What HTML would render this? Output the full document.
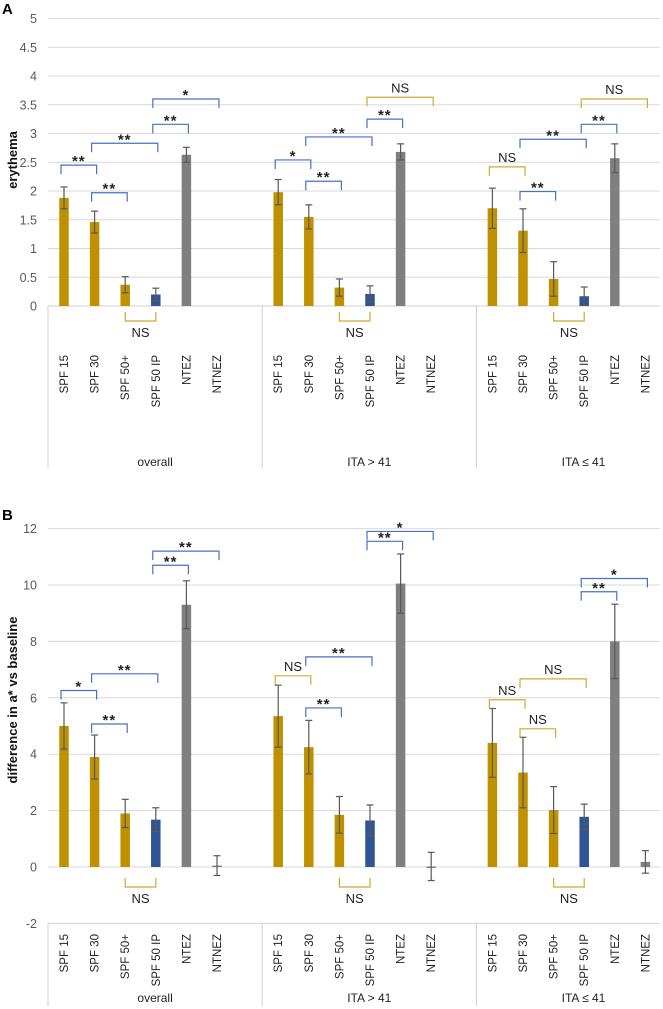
<!DOCTYPE html>
<html><head><meta charset="utf-8">
<style>
html,body{margin:0;padding:0;background:#fff;}
svg{display:block;font-family:"Liberation Sans","DejaVu Sans",sans-serif;}
</style></head>
<body>
<svg id="fig" width="663" height="1009" viewBox="0 0 663 1009"></svg>
<script>
// ===== Shared categories =====
const groups = ["overall", "ITA > 41", "ITA \u2264 41"];
const categories = ["SPF 15", "SPF 30", "SPF 50+", "SPF 50 IP", "NTEZ", "NTNEZ"];
const barKinds = ["gold", "gold", "gold", "blue", "gray", "gray"];

// ===== Chart A: erythema =====
const aTicks = [0, 0.5, 1, 1.5, 2, 2.5, 3, 3.5, 4, 4.5, 5];
const aTickLabels = ["0", "0.5", "1", "1.5", "2", "2.5", "3", "3.5", "4", "4.5", "5"];
const aOverall = [1.88, 1.46, 0.37, 0.20, 2.63, 0];
const aOverallErr = [0.19, 0.19, 0.14, 0.11, 0.13, 0];
const aHigh = [1.98, 1.55, 0.32, 0.21, 2.68, 0];
const aHighErr = [0.22, 0.21, 0.15, 0.14, 0.14, 0];
const aLow = [1.70, 1.31, 0.47, 0.17, 2.57, 0];
const aLowErr = [0.35, 0.38, 0.30, 0.16, 0.25, 0];
// brackets: [group, from, to, y-value, label, color]
const aBrackets = [
  [0,0,1,2.45,"**","b"],[0,1,2,1.97,"**","b"],[0,1,3,2.83,"**","b"],[0,3,4,3.16,"**","b"],[0,3,5,3.6,"*","b"],
  [1,0,1,2.54,"*","b"],[1,1,2,2.17,"**","b"],[1,1,3,2.94,"**","b"],[1,3,4,3.25,"**","b"],[1,3,5,3.63,"NS","g"],
  [2,0,1,2.42,"NS","g"],[2,1,2,1.99,"**","b"],[2,1,3,2.9,"**","b"],[2,3,4,3.16,"**","b"],[2,3,5,3.6,"NS","g"]
];

// ===== Chart B: difference in a* =====
const bTicks = [-2, 0, 2, 4, 6, 8, 10, 12];
const bTickLabels = ["-2", "0", "2", "4", "6", "8", "10", "12"];
const bOverall = [5.0, 3.9, 1.9, 1.68, 9.3, 0.05];
const bOverallErr = [0.82, 0.78, 0.5, 0.42, 0.85, 0.35];
const bHigh = [5.35, 4.25, 1.85, 1.65, 10.05, 0.02];
const bHighErr = [1.1, 0.95, 0.65, 0.55, 1.05, 0.5];
const bLow = [4.4, 3.35, 2.02, 1.78, 8.0, 0.18];
const bLowErr = [1.22, 1.25, 0.83, 0.45, 1.32, 0.4];
const bBrackets = [
  [0,0,1,6.26,"*","b"],[0,1,2,5.07,"**","b"],[0,1,3,6.85,"**","b"],[0,3,4,10.7,"**","b"],[0,3,5,11.2,"**","b"],
  [1,0,1,6.78,"NS","g"],[1,1,2,5.64,"**","b"],[1,1,3,7.45,"**","b"],[1,3,4,11.55,"**","b"],[1,3,5,11.9,"*","b"],
  [2,0,1,5.93,"NS","g"],[2,1,2,4.9,"NS","g"],[2,1,3,6.67,"NS","g"],[2,3,4,9.76,"**","b"],[2,3,5,10.23,"*","b"]
];

const NS = "http://www.w3.org/2000/svg";
const svg = document.getElementById("fig");
const COLORS = {gold:"#bf9000", blue:"#2f5597", gray:"#7f7f7f"};
const BR = {b:"#4472c4", g:"#d6a72e"};
function el(tag, attrs, parent){
  const e = document.createElementNS(NS, tag);
  for (const k in attrs) e.setAttribute(k, attrs[k]);
  (parent||svg).appendChild(e);
  return e;
}

function drawChart(cfg){
  const g = el("g", {});
  
  
  const x0 = 48, x1 = 660, gw = 214.2, off = 16, step = 30.6, bw = 9.5;
  const y = v => cfg.zeroY - v * cfg.scale;
  const cx = (gi, ci) => x0 + gi * gw + off + ci * step;

  // gridlines & ticks
  cfg.ticks.forEach((t, i) => {
    if (t !== cfg.axisVal) {
      const l = el("line", {x1:x0, x2:x1, y1:y(t), y2:y(t), stroke:"#d9d9d9", "stroke-width":1}, g);
      
      
    }
    const tx = el("text", {x:37, y:y(t)+4.5, "text-anchor":"end", "font-size":12.5, fill:"#595959"}, g);
    tx.textContent = cfg.tickLabels[i];
    
    
  });
  // category axis line
  const ay = y(cfg.axisVal);
  const axl = el("line", {x1:x0, x2:x1, y1:ay, y2:ay, stroke:"#d0d0d0", "stroke-width":1}, g);
  
  
  for (let k = 0; k <= 3; k++) {
    const sx = x0 + k * gw;
    const s = el("line", {x1:sx, x2:sx, y1:ay, y2:cfg.sepBottom, stroke:"#d0d0d0", "stroke-width":1}, g);
    
    
  }
  // bars & error bars
  cfg.series.forEach((vals, gi) => {
    vals.forEach((v, ci) => {
      const c = cx(gi, ci);
      if (v !== 0) {
        const top = Math.min(y(v), y(0)), h = Math.abs(y(v) - y(0));
        const r = el("rect", {x:c - bw/2, y:top, width:bw, height:Math.max(h,1.5), fill:COLORS[barKinds[ci]]}, g);
        
        
      }
      const e = cfg.errs[gi][ci];
      if (e > 0) {
        const yt = y(v + e), yb = y(v - e);
        const eg = el("g", {stroke:"#595959", "stroke-width":1.2}, g);
        
        
        el("line", {x1:c, x2:c, y1:yt, y2:yb}, eg);
        el("line", {x1:c-3.5, x2:c+3.5, y1:yt, y2:yt}, eg);
        el("line", {x1:c-3.5, x2:c+3.5, y1:yb, y2:yb}, eg);
      }
    });
    // category labels
    categories.forEach((name, ci) => {
      const c = cx(gi, ci);
      const t = el("text", {x:0, y:0, "text-anchor":"end", "font-size":11.5, fill:"#222",
        transform:"translate(" + (c + 4) + "," + cfg.labelTop + ") rotate(-90)"}, g);
      t.textContent = name;
      
      
    });
    const gl = el("text", {x:x0 + gi*gw + gw/2, y:cfg.groupLabelY, "text-anchor":"middle", "font-size":12, fill:"#222"}, g);
    gl.textContent = groups[gi];
    
    
    // NS bracket below axis
    const l = cx(gi, 2), rr = cx(gi, 3);
    const nb = el("path", {d:"M"+l+","+cfg.nsTop+" V"+(cfg.nsTop+9)+" H"+rr+" V"+cfg.nsTop, fill:"none", stroke:BR.g, "stroke-width":1.2}, g);
    
    
    const nt = el("text", {x:(l+rr)/2, y:cfg.nsTop+25, "text-anchor":"middle", "font-size":13, fill:"#222"}, g);
    nt.textContent = "NS";
    
    
  });
  // significance brackets
  cfg.brackets.forEach(b => {
    const l = cx(b[0], b[1]) - 3, r = cx(b[0], b[2]) + 2, yy = y(b[3]);
    const p = el("path", {d:"M"+l+","+(yy+9)+" V"+yy+" H"+r+" V"+(yy+9), fill:"none", stroke:BR[b[5]], "stroke-width":1.2}, g);
    
    
    const isNS = b[4] === "NS";
    const t = el("text", {x:(l+r)/2, y:isNS ? yy-5 : yy+1, "text-anchor":"middle", "font-size":isNS?13:15, "font-weight":isNS?"normal":"bold", fill:"#222", "letter-spacing":isNS?0:1}, g);
    t.textContent = b[4];
    
    
  });
  // axis title
  const at = el("text", {x:0, y:0, "text-anchor":"middle", "font-size":13, "font-weight":"bold", fill:"#111",
    transform:"translate(17," + cfg.titleY + ") rotate(-90)"}, g);
  at.textContent = cfg.title;
  
  
  const pl = el("text", {x:2, y:cfg.letterY, "font-size":15, "font-weight":"bold", fill:"#000"}, g);
  pl.textContent = cfg.letter;
  
  
}

drawChart({name:"chart-a-erythema", zeroY:306, scale:57.5, ticks:aTicks, tickLabels:aTickLabels, axisVal:0,
  series:[aOverall,aHigh,aLow], errs:[aOverallErr,aHighErr,aLowErr], brackets:aBrackets,
  sepBottom:468, labelTop:355, groupLabelY:466, nsTop:312, title:"erythema", titleY:160, letter:"A", letterY:14});
drawChart({name:"chart-b-a-star-difference", zeroY:867, scale:28.2, ticks:bTicks, tickLabels:bTickLabels, axisVal:-2,
  series:[bOverall,bHigh,bLow], errs:[bOverallErr,bHighErr,bLowErr], brackets:bBrackets,
  sepBottom:1006, labelTop:934, groupLabelY:1002, nsTop:878, title:"difference in a* vs baseline", titleY:700, letter:"B", letterY:520});
</script>
</body></html>
